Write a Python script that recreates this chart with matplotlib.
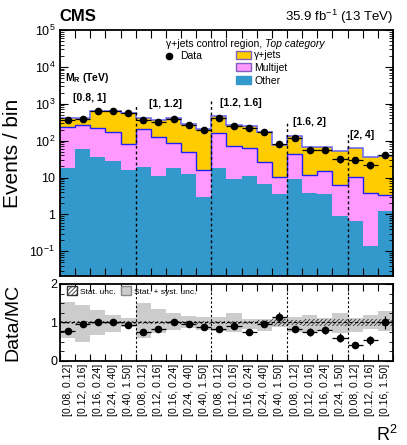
import numpy as np
import matplotlib.pyplot as plt
from matplotlib.patches import Patch
from matplotlib.lines import Line2D
from matplotlib.ticker import FixedLocator, NullFormatter, FuncFormatter, LogLocator

plt.rcParams['font.family'] = ['Liberation Sans', 'DejaVu Sans']
plt.rcParams['mathtext.fontset'] = 'custom'
plt.rcParams['mathtext.rm'] = 'Liberation Sans'
plt.rcParams['mathtext.bf'] = 'Liberation Sans:bold'
plt.rcParams['hatch.linewidth'] = 0.6

# R2 bin labels, 5 MR groups
bin_labels = ['[0.08, 0.12]', '[0.12, 0.16]', '[0.16, 0.24]', '[0.24, 0.40]', '[0.40, 1.50]',
              '[0.08, 0.12]', '[0.12, 0.16]', '[0.16, 0.24]', '[0.24, 0.40]', '[0.40, 1.50]',
              '[0.08, 0.12]', '[0.12, 0.16]', '[0.16, 0.24]', '[0.24, 0.40]', '[0.40, 1.50]',
              '[0.08, 0.12]', '[0.12, 0.16]', '[0.16, 0.24]', '[0.24, 1.50]',
              '[0.08, 0.12]', '[0.12, 0.16]', '[0.16, 1.50]']
mr_groups = ['[0.8, 1]', '[1, 1.2]', '[1.2, 1.6]', '[1.6, 2]', '[2, 4]']
group_start = [0, 5, 10, 15, 19]

other = [17.9, 58, 35.5, 28.7, 16.1, 19.7, 11.2, 17.9, 12.5, 2.9, 18.5,
         9.3, 10.8, 6.7, 3.5, 9.2, 3.9, 3.5, 0.93, 0.68, 0.143, 1.27]
multijet = [221, 208, 181, 143, 65, 184, 117, 67, 36, 12.9, 146,
            64, 51, 20.3, 7.1, 33.6, 7.8, 11.6, 5.4, 9.5, 3.76, 2.13]
gjets = [181, 154, 433, 455, 472, 216, 236, 335, 230, 188, 302,
         193, 193, 148, 65.4, 94.2, 57.3, 53.9, 46.7, 54.8, 32.9, 35.1]
data = [357, 387, 650, 638, 553, 357, 315, 387, 266, 191, 404,
        250, 225, 172, 83, 121, 56, 56, 31, 30, 22, 41]

ratio = [0.78, 0.95, 1.0, 1.01, 0.94, 0.74, 0.83, 1.02, 0.97, 0.87, 0.83,
         0.90, 0.745, 0.95, 1.14, 0.83, 0.75, 0.80, 0.61, 0.42, 0.54, 1.0]
syst_hi = [1.54, 1.45, 1.32, 1.19, 1.11, 1.50, 1.34, 1.24, 1.18, 1.15, 1.15,
           1.24, 1.08, 1.08, 1.12, 1.15, 1.19, 1.11, 1.24, 1.11, 1.19, 1.30]
syst_lo = [0.59, 0.50, 0.68, 0.76, 0.89, 0.59, 0.72, 0.80, 0.85, 0.80, 0.78,
           0.76, 0.82, 0.78, 0.89, 0.76, 0.76, 0.78, 0.72, 0.76, 0.82, 0.78]
stat_unc = [0.05, 0.05, 0.04, 0.04, 0.04, 0.05, 0.05, 0.05, 0.05, 0.05, 0.05,
            0.05, 0.05, 0.06, 0.08, 0.06, 0.08, 0.08, 0.08, 0.08, 0.1, 0.1]

n = len(bin_labels)
edges = np.arange(n + 1)
xc = np.arange(n) + 0.5
other = np.array(other)
cum_mj = other + np.array(multijet)
total = cum_mj + np.array(gjets)
data = np.array(data)

c_other = '#3399cc'
c_mj = '#ff99ff'
c_gj = '#ffcc00'

fig = plt.figure(figsize=(4.07, 4.45), dpi=100)
ax = fig.add_axes([0.1474, 0.3798, 0.8182, 0.5528])
rax = fig.add_axes([0.1474, 0.1888, 0.8182, 0.1730])

# main stack
ax.stairs(other, edges, baseline=1e-3, fill=True, color=c_other)
ax.stairs(cum_mj, edges, baseline=other, fill=True, color=c_mj)
ax.stairs(total, edges, baseline=cum_mj, fill=True, color=c_gj)
ax.stairs(cum_mj, edges, baseline=None, color='#2020ff', lw=1.0)
ax.stairs(total, edges, baseline=None, color='#7070ff', lw=1.2)
ax.fill_between(edges, np.append(total * 0.93, total[-1] * 0.93),
                np.append(total, total[-1]), step='post', color='#806040', alpha=0.25, lw=0)
ax.errorbar(xc, data, yerr=np.sqrt(data), xerr=0.5, fmt='o', color='black',
            ms=4.5, lw=0.9, capsize=0)

ax.set_yscale('log')
ax.set_ylim(0.0215, 1e5)
ax.set_xlim(0, n)
ax.yaxis.set_major_locator(LogLocator(base=10, numticks=10))
ax.yaxis.set_minor_locator(LogLocator(base=10, subs=np.arange(2, 10), numticks=20))


def log_fmt(v, pos):
    e = int(round(np.log10(v)))
    if e == 0:
        return '1'
    if e == 1:
        return '10'
    return '$10^{%d}$' % e


ax.yaxis.set_major_formatter(FuncFormatter(log_fmt))
ax.yaxis.set_minor_formatter(NullFormatter())
ax.xaxis.set_major_locator(FixedLocator(edges))
ax.tick_params(which='both', direction='in', top=True, right=True, labelsize=9)
ax.tick_params(axis='x', which='both', labelbottom=False)
ax.tick_params(axis='y', which='minor', labelleft=False)
ax.tick_params(which='major', length=6, width=0.8)
ax.tick_params(which='minor', length=3, width=0.6)
for s in ax.spines.values():
    s.set_linewidth(1.3)
ax.set_ylabel('Events / bin', fontsize=15)
ax.yaxis.set_label_coords(-0.115, 0.5)

# MR group separators and labels
line_tops = [0.695, 0.715, 0.627, 0.581]
label_pos = [(0.039, 0.724), (0.267, 0.699), (0.48, 0.703), (0.70, 0.626), (0.871, 0.573)]
for k, g in enumerate(mr_groups):
    if k > 0:
        ax.axvline(group_start[k], ymin=0, ymax=line_tops[k - 1], color='black', ls=(0, (2, 2)), lw=1)
        rax.axvline(group_start[k], color='black', ls=(0, (2, 2)), lw=0.8)
    ax.text(label_pos[k][0], label_pos[k][1], g, transform=ax.transAxes, fontsize=7.5,
            fontweight='bold', va='center', ha='left')
ax.text(0.015, 0.805, '$\\mathbf{M_R}$ (TeV)', transform=ax.transAxes, fontsize=7.5,
        fontweight='bold', va='center')

# legend / region text
ax.text(0.616, 0.942, '\u03b3+jets control region, ', transform=ax.transAxes,
        fontsize=7.5, ha='right', va='center')
ax.text(0.616, 0.942, 'Top category', transform=ax.transAxes, fontsize=7.5,
        ha='left', va='center', style='italic')
leg1 = ax.legend(handles=[Line2D([], [], marker='o', color='black', ls='none', ms=4.5)],
                 labels=['Data'], loc='center left', bbox_to_anchor=(0.31, 0.893),
                 frameon=False, fontsize=7.5, handlelength=1.2, handletextpad=0.4,
                 borderaxespad=0, borderpad=0)
ax.add_artist(leg1)
ax.legend(handles=[Patch(facecolor=c_gj, edgecolor='#8060c0'),
                   Patch(facecolor=c_mj, edgecolor='#8060c0'),
                   Patch(facecolor=c_other, edgecolor=c_other)],
          labels=['\u03b3+jets', 'Multijet', 'Other'], loc='upper left',
          bbox_to_anchor=(0.53, 0.917), frameon=False, fontsize=7.5,
          handlelength=1.4, handleheight=0.8, handletextpad=0.3, labelspacing=0.25,
          borderaxespad=0, borderpad=0)

# ratio panel
rax.stairs(syst_hi, edges, baseline=syst_lo, fill=True, color='#cccccc', lw=0)
su = np.array(stat_unc)
rax.stairs(1 + su, edges, baseline=1 - su, fill=True, facecolor='none',
           edgecolor='#333333', hatch='////////', lw=0)
rax.axhline(1, color='black', ls=(0, (3, 2)), lw=0.8)
rax.errorbar(xc, ratio, yerr=np.array(ratio) / np.sqrt(data), xerr=0.5, fmt='o',
             color='black', ms=4.5, lw=0.9, capsize=0)
rax.set_xlim(0, n)
rax.set_ylim(0, 2)
rax.set_yticks([0, 1, 2])
rax.set_yticks([0.25, 0.5, 0.75, 1.25, 1.5, 1.75], minor=True)
rax.xaxis.set_major_locator(FixedLocator(edges))
rax.xaxis.set_major_formatter(NullFormatter())
rax.xaxis.set_minor_locator(FixedLocator(xc))
rax.xaxis.set_minor_formatter(FuncFormatter(lambda v, p: bin_labels[int(v)]))
rax.tick_params(axis='x', which='minor', length=0, labelsize=7.5, labelrotation=90, pad=2)
rax.tick_params(axis='x', which='major', direction='in', top=True, length=5, labelbottom=False)
rax.tick_params(axis='y', which='both', direction='in', right=True, labelsize=9, pad=2)
rax.tick_params(axis='y', which='minor', labelleft=False)
rax.tick_params(axis='y', which='major', length=6)
rax.tick_params(axis='y', which='minor', length=3)
for s in rax.spines.values():
    s.set_linewidth(1.3)
rax.set_ylabel('Data/MC', fontsize=14)
rax.yaxis.set_label_coords(-0.115, 0.5)
rax.legend(handles=[Patch(facecolor='white', edgecolor='#333333', hatch='////////'),
                    Patch(facecolor='#cccccc', edgecolor='#888888')],
           labels=['Stat. unc.', 'Stat. + syst. unc.'], loc='upper left', ncol=2,
           bbox_to_anchor=(0.02, 0.97), frameon=False, fontsize=6, handlelength=1.3,
           handleheight=1.3, handletextpad=0.3, columnspacing=0.6, borderaxespad=0, borderpad=0)

fig.text(0.147, 0.962, 'CMS', fontsize=12, fontweight='bold', ha='left', va='center')
fig.text(0.966, 0.962, '35.9 fb$^{-1}$ (13 TeV)', fontsize=9.5, ha='right', va='center')
fig.text(0.951, 0.022, 'R$^2$', fontsize=13, ha='center', va='center')

fig.savefig('out.png', dpi=100)
